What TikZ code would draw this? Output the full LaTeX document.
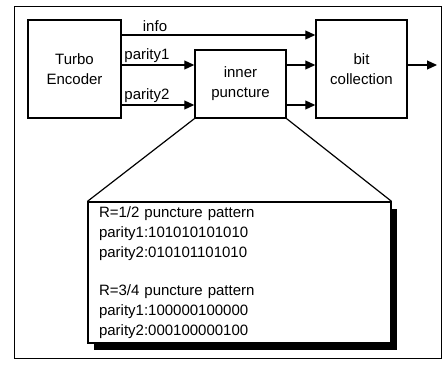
\documentclass[tikz,border=0pt]{standalone}
\usepackage{fontspec}
\setmainfont{Liberation Sans}
\usetikzlibrary{arrows.meta,shadows}

\begin{document}
\begin{tikzpicture}[x=1pt,y=-1pt,
    font=\fontsize{15}{20}\selectfont,
    blk/.style={draw,line width=1.5pt,align=center,inner sep=0pt},
    sig/.style={line width=1.2pt,-{Triangle[length=10pt,width=9pt]}},
    lbl/.style={inner sep=1pt}]
    \useasboundingbox (0,0) rectangle (444,369);
    \draw[line width=0.8pt] (14,6) rectangle (441,358);

    % blocks
    \node[blk,minimum width=93pt,minimum height=98pt] (enc) at (74.5,69) {Turbo\\Encoder};
    \node[blk,minimum width=91pt,minimum height=68pt] (inner) at (240.5,84) {inner\\puncture};
    \node[blk,minimum width=91pt,minimum height=98pt] (bit) at (361.5,69) {bit\\collection};
    \coordinate (out) at (437,65);

    % signals
    \draw[sig] (enc.east |- 0,35) -- (bit.west |- 0,35);
    \draw[sig] (enc.east |- 0,65) -- (inner.west |- 0,65);
    \draw[sig] (enc.east |- 0,105) -- (inner.west |- 0,105);
    \draw[sig] (inner.east |- 0,65) -- (bit.west |- 0,65);
    \draw[sig] (inner.east |- 0,105) -- (bit.west |- 0,105);
    \draw[sig] (bit.east |- out) -- (out);
    \node[lbl] (info) at (155,26) {info};
    \node[lbl] (p1) at (147,56) {parity1};
    \node[lbl] (p2) at (147,96) {parity2};

    % puncture patterns
    \node[draw,fill=white,line width=1.2pt,minimum width=303pt,minimum height=141pt,
        text width=281pt,align=left,inner xsep=11pt,
        drop shadow={shadow xshift=6pt,shadow yshift=-7pt,fill=black,opacity=1}]
        (pat) at (239.5,272.5)
        {R=1/2 puncture pattern\\
         parity1:101010101010\\
         parity2:010101101010\\[18pt]
         R=3/4 puncture pattern\\
         parity1:100000100000\\
         parity2:000100000100};
    \draw[line width=1.2pt] (inner.south west) -- (pat.north west);
    \draw[line width=1.2pt] (inner.south east) -- (pat.north east);
\end{tikzpicture}
\end{document}
